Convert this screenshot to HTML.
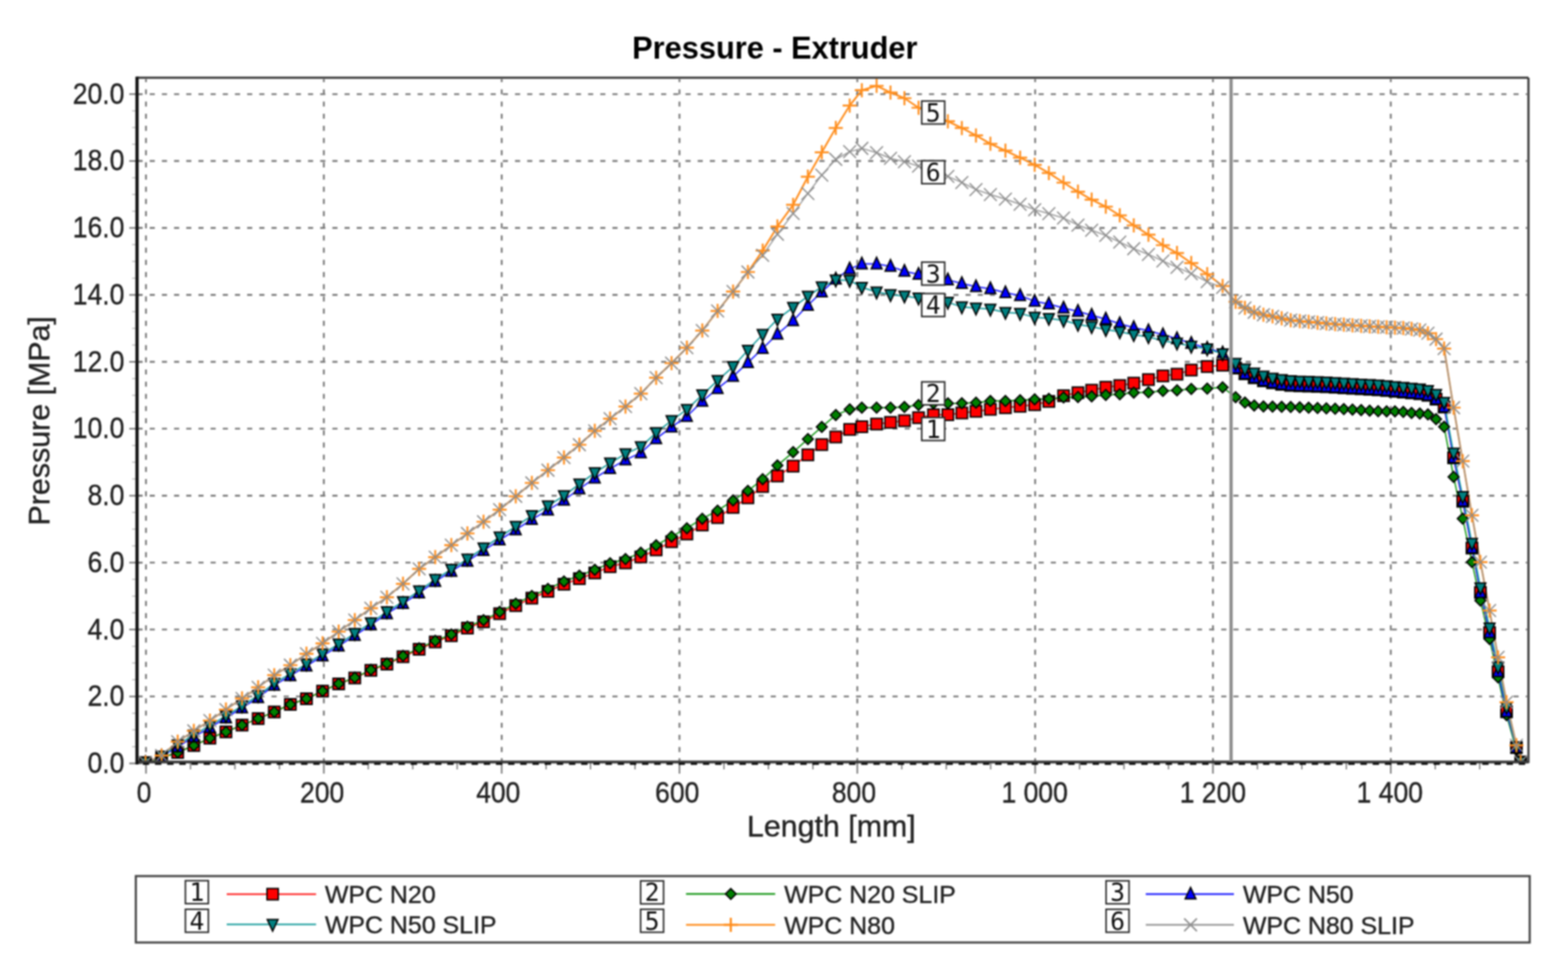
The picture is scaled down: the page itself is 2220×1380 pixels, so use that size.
<!DOCTYPE html>
<html><head><meta charset="utf-8"><title>Pressure - Extruder</title>
<style>html,body{margin:0;padding:0;background:#fff;} svg{display:block;filter:blur(0.9px);}</style>
</head><body>
<svg width="2220" height="1380" viewBox="0 0 2220 1380">
<rect width="2220" height="1380" fill="#fff"/>
<text x="1097" y="82.5" text-anchor="middle" font-family="Liberation Sans, Arial, sans-serif" font-weight="bold" font-size="43.5" fill="#000">Pressure - Extruder</text>
<g stroke="#7a7a7a" stroke-width="2.6" stroke-dasharray="7.2 10.04"><line x1="196" y1="985.8" x2="2162" y2="985.8" stroke-dashoffset="1.24"/><line x1="196" y1="891.0" x2="2162" y2="891.0" stroke-dashoffset="1.24"/><line x1="196" y1="796.3" x2="2162" y2="796.3" stroke-dashoffset="1.24"/><line x1="196" y1="701.6" x2="2162" y2="701.6" stroke-dashoffset="1.24"/><line x1="196" y1="606.8" x2="2162" y2="606.8" stroke-dashoffset="1.24"/><line x1="196" y1="512.1" x2="2162" y2="512.1" stroke-dashoffset="1.24"/><line x1="196" y1="417.4" x2="2162" y2="417.4" stroke-dashoffset="1.24"/><line x1="196" y1="322.6" x2="2162" y2="322.6" stroke-dashoffset="1.24"/><line x1="196" y1="227.9" x2="2162" y2="227.9" stroke-dashoffset="1.24"/><line x1="196" y1="133.2" x2="2162" y2="133.2" stroke-dashoffset="1.24"/><line x1="206.7" y1="112" x2="206.7" y2="1077" stroke-dashoffset="2.84"/><line x1="458.5" y1="112" x2="458.5" y2="1077" stroke-dashoffset="2.84"/><line x1="710.3" y1="112" x2="710.3" y2="1077" stroke-dashoffset="2.84"/><line x1="962.0" y1="112" x2="962.0" y2="1077" stroke-dashoffset="2.84"/><line x1="1213.8" y1="112" x2="1213.8" y2="1077" stroke-dashoffset="2.84"/><line x1="1465.6" y1="112" x2="1465.6" y2="1077" stroke-dashoffset="2.84"/><line x1="1717.3" y1="112" x2="1717.3" y2="1077" stroke-dashoffset="2.84"/><line x1="1969.1" y1="112" x2="1969.1" y2="1077" stroke-dashoffset="2.84"/></g>
<g stroke="#7a7a7a" stroke-width="2.2"><line x1="183" y1="1080.5" x2="201" y2="1080.5"/><line x1="187" y1="1056.8" x2="193" y2="1056.8" stroke-width="1.4" stroke="#b5b5b5"/><line x1="187" y1="1033.1" x2="193" y2="1033.1" stroke-width="1.4" stroke="#b5b5b5"/><line x1="187" y1="1009.5" x2="193" y2="1009.5" stroke-width="1.4" stroke="#b5b5b5"/><line x1="183" y1="985.8" x2="201" y2="985.8"/><line x1="187" y1="962.1" x2="193" y2="962.1" stroke-width="1.4" stroke="#b5b5b5"/><line x1="187" y1="938.4" x2="193" y2="938.4" stroke-width="1.4" stroke="#b5b5b5"/><line x1="187" y1="914.7" x2="193" y2="914.7" stroke-width="1.4" stroke="#b5b5b5"/><line x1="183" y1="891.0" x2="201" y2="891.0"/><line x1="187" y1="867.4" x2="193" y2="867.4" stroke-width="1.4" stroke="#b5b5b5"/><line x1="187" y1="843.7" x2="193" y2="843.7" stroke-width="1.4" stroke="#b5b5b5"/><line x1="187" y1="820.0" x2="193" y2="820.0" stroke-width="1.4" stroke="#b5b5b5"/><line x1="183" y1="796.3" x2="201" y2="796.3"/><line x1="187" y1="772.6" x2="193" y2="772.6" stroke-width="1.4" stroke="#b5b5b5"/><line x1="187" y1="748.9" x2="193" y2="748.9" stroke-width="1.4" stroke="#b5b5b5"/><line x1="187" y1="725.3" x2="193" y2="725.3" stroke-width="1.4" stroke="#b5b5b5"/><line x1="183" y1="701.6" x2="201" y2="701.6"/><line x1="187" y1="677.9" x2="193" y2="677.9" stroke-width="1.4" stroke="#b5b5b5"/><line x1="187" y1="654.2" x2="193" y2="654.2" stroke-width="1.4" stroke="#b5b5b5"/><line x1="187" y1="630.5" x2="193" y2="630.5" stroke-width="1.4" stroke="#b5b5b5"/><line x1="183" y1="606.8" x2="201" y2="606.8"/><line x1="187" y1="583.2" x2="193" y2="583.2" stroke-width="1.4" stroke="#b5b5b5"/><line x1="187" y1="559.5" x2="193" y2="559.5" stroke-width="1.4" stroke="#b5b5b5"/><line x1="187" y1="535.8" x2="193" y2="535.8" stroke-width="1.4" stroke="#b5b5b5"/><line x1="183" y1="512.1" x2="201" y2="512.1"/><line x1="187" y1="488.4" x2="193" y2="488.4" stroke-width="1.4" stroke="#b5b5b5"/><line x1="187" y1="464.7" x2="193" y2="464.7" stroke-width="1.4" stroke="#b5b5b5"/><line x1="187" y1="441.1" x2="193" y2="441.1" stroke-width="1.4" stroke="#b5b5b5"/><line x1="183" y1="417.4" x2="201" y2="417.4"/><line x1="187" y1="393.7" x2="193" y2="393.7" stroke-width="1.4" stroke="#b5b5b5"/><line x1="187" y1="370.0" x2="193" y2="370.0" stroke-width="1.4" stroke="#b5b5b5"/><line x1="187" y1="346.3" x2="193" y2="346.3" stroke-width="1.4" stroke="#b5b5b5"/><line x1="183" y1="322.6" x2="201" y2="322.6"/><line x1="187" y1="299.0" x2="193" y2="299.0" stroke-width="1.4" stroke="#b5b5b5"/><line x1="187" y1="275.3" x2="193" y2="275.3" stroke-width="1.4" stroke="#b5b5b5"/><line x1="187" y1="251.6" x2="193" y2="251.6" stroke-width="1.4" stroke="#b5b5b5"/><line x1="183" y1="227.9" x2="201" y2="227.9"/><line x1="187" y1="204.2" x2="193" y2="204.2" stroke-width="1.4" stroke="#b5b5b5"/><line x1="187" y1="180.5" x2="193" y2="180.5" stroke-width="1.4" stroke="#b5b5b5"/><line x1="187" y1="156.9" x2="193" y2="156.9" stroke-width="1.4" stroke="#b5b5b5"/><line x1="183" y1="133.2" x2="201" y2="133.2"/><line x1="206.7" y1="1073" x2="206.7" y2="1095"/><line x1="269.7" y1="1079" x2="269.7" y2="1089" stroke-width="1.8"/><line x1="332.6" y1="1079" x2="332.6" y2="1089" stroke-width="1.8"/><line x1="395.6" y1="1079" x2="395.6" y2="1089" stroke-width="1.8"/><line x1="458.5" y1="1073" x2="458.5" y2="1095"/><line x1="521.4" y1="1079" x2="521.4" y2="1089" stroke-width="1.8"/><line x1="584.4" y1="1079" x2="584.4" y2="1089" stroke-width="1.8"/><line x1="647.3" y1="1079" x2="647.3" y2="1089" stroke-width="1.8"/><line x1="710.3" y1="1073" x2="710.3" y2="1095"/><line x1="773.2" y1="1079" x2="773.2" y2="1089" stroke-width="1.8"/><line x1="836.1" y1="1079" x2="836.1" y2="1089" stroke-width="1.8"/><line x1="899.1" y1="1079" x2="899.1" y2="1089" stroke-width="1.8"/><line x1="962.0" y1="1073" x2="962.0" y2="1095"/><line x1="1025.0" y1="1079" x2="1025.0" y2="1089" stroke-width="1.8"/><line x1="1087.9" y1="1079" x2="1087.9" y2="1089" stroke-width="1.8"/><line x1="1150.9" y1="1079" x2="1150.9" y2="1089" stroke-width="1.8"/><line x1="1213.8" y1="1073" x2="1213.8" y2="1095"/><line x1="1276.7" y1="1079" x2="1276.7" y2="1089" stroke-width="1.8"/><line x1="1339.7" y1="1079" x2="1339.7" y2="1089" stroke-width="1.8"/><line x1="1402.6" y1="1079" x2="1402.6" y2="1089" stroke-width="1.8"/><line x1="1465.6" y1="1073" x2="1465.6" y2="1095"/><line x1="1528.5" y1="1079" x2="1528.5" y2="1089" stroke-width="1.8"/><line x1="1591.4" y1="1079" x2="1591.4" y2="1089" stroke-width="1.8"/><line x1="1654.4" y1="1079" x2="1654.4" y2="1089" stroke-width="1.8"/><line x1="1717.3" y1="1073" x2="1717.3" y2="1095"/><line x1="1780.3" y1="1079" x2="1780.3" y2="1089" stroke-width="1.8"/><line x1="1843.2" y1="1079" x2="1843.2" y2="1089" stroke-width="1.8"/><line x1="1906.2" y1="1079" x2="1906.2" y2="1089" stroke-width="1.8"/><line x1="1969.1" y1="1073" x2="1969.1" y2="1095"/><line x1="2032.0" y1="1079" x2="2032.0" y2="1089" stroke-width="1.8"/><line x1="2095.0" y1="1079" x2="2095.0" y2="1089" stroke-width="1.8"/></g>
<defs><clipPath id="pa"><rect x="194" y="110" width="1970" height="968.5"/></clipPath></defs>
<g clip-path="url(#pa)">
<polyline points="206.0,1079.4 228.8,1072.5 251.6,1065.0 274.4,1055.2 297.2,1044.8 319.9,1035.9 342.7,1026.3 365.5,1017.1 388.3,1007.7 411.1,997.0 433.9,989.0 456.7,978.2 479.5,968.0 502.3,959.6 525.1,948.8 547.8,940.0 570.6,929.5 593.4,919.0 616.2,908.6 639.0,899.8 661.8,889.0 684.6,880.1 707.4,868.6 730.2,857.2 753.0,846.6 775.8,837.0 798.5,826.9 820.3,819.0 842.1,810.9 863.8,802.1 885.6,796.7 907.3,788.3 929.0,778.3 950.8,766.7 972.5,755.8 994.3,743.1 1016.0,732.6 1037.9,718.2 1058.9,704.6 1079.8,688.6 1100.7,673.7 1122.9,659.8 1143.8,643.8 1163.5,629.3 1183.3,618.5 1203.0,607.8 1220.2,604.0 1241.1,600.2 1260.8,597.8 1280.5,595.5 1300.5,591.2 1321.6,587.1 1342.0,587.0 1361.8,584.5 1381.8,582.2 1402.2,579.4 1423.5,577.1 1444.3,575.1 1464.9,572.8 1485.0,568.2 1505.8,560.1 1526.2,555.8 1545.6,552.3 1565.6,548.1 1585.4,545.7 1605.2,542.3 1626.0,537.3 1646.5,532.1 1666.4,529.6 1686.6,523.8 1709.2,518.8 1731.0,516.9 1749.4,521.0 1762.6,529.1 1775.7,534.7 1788.8,539.0 1801.7,541.8 1814.6,544.0 1827.4,545.5 1840.2,546.1 1852.8,546.5 1865.4,546.9 1877.9,547.4 1890.3,548.1 1902.6,548.9 1914.9,549.6 1927.1,550.3 1939.2,551.0 1951.2,551.7 1963.2,552.7 1975.0,553.8 1986.8,555.0 1998.5,556.1 2010.2,557.3 2021.7,559.5 2033.2,565.0 2044.6,576.1 2058.0,648.0 2071.0,709.5 2084.0,775.7 2096.0,838.6 2109.0,895.4 2121.0,950.7 2133.0,1007.5 2147.0,1058.1 2153.0,1078.5" fill="none" stroke="#ff1a1a" stroke-width="2.0" stroke-linejoin="round"/>
<polyline points="206.0,1079.4 228.8,1072.5 251.6,1065.0 274.4,1055.2 297.2,1044.8 319.9,1035.9 342.7,1026.3 365.5,1017.1 388.3,1007.7 411.1,997.0 433.9,989.0 456.7,978.1 479.5,967.7 502.3,959.1 525.1,948.1 547.8,939.1 570.6,928.3 593.4,917.6 616.2,907.0 639.0,898.0 661.8,887.0 684.6,877.8 707.4,866.1 730.2,854.4 753.0,843.5 775.8,833.5 798.5,823.0 820.3,814.8 842.1,806.4 863.8,797.2 885.6,791.3 907.3,782.3 929.0,771.8 950.8,759.4 972.5,747.7 994.3,734.2 1016.0,722.7 1037.9,708.3 1058.9,694.7 1079.8,678.2 1100.7,658.8 1122.9,639.9 1143.8,621.4 1163.5,604.3 1183.3,587.4 1203.0,579.4 1220.2,577.0 1241.1,577.0 1260.8,577.0 1280.5,576.1 1300.5,573.2 1321.6,570.9 1342.0,570.9 1361.8,570.8 1381.8,569.9 1402.2,567.6 1423.5,567.6 1444.3,566.6 1464.9,565.2 1485.0,564.6 1505.8,562.4 1526.2,561.9 1545.6,560.9 1565.6,559.0 1585.4,558.0 1605.2,555.7 1626.0,555.3 1646.5,553.3 1666.4,552.4 1686.6,550.5 1709.2,550.0 1731.0,548.2 1749.4,562.2 1762.6,569.8 1775.7,573.9 1788.8,575.3 1801.7,575.6 1814.6,575.8 1827.4,576.1 1840.2,576.6 1852.8,577.1 1865.4,577.5 1877.9,578.0 1890.3,578.5 1902.6,579.1 1914.9,579.7 1927.1,580.4 1939.2,581.2 1951.2,582.0 1963.2,582.2 1975.0,582.2 1986.8,583.1 1998.5,584.5 2010.2,585.3 2021.7,586.6 2033.2,593.2 2044.6,604.1 2058.0,674.9 2071.0,734.1 2084.0,795.6 2096.0,850.0 2109.0,904.4 2121.0,958.8 2133.0,1012.2 2147.0,1061.4 2153.0,1078.5" fill="none" stroke="#1c9a1c" stroke-width="2.0" stroke-linejoin="round"/>
<polyline points="206.0,1079.4 228.8,1070.3 251.6,1057.2 274.4,1043.0 297.2,1029.8 319.9,1016.1 342.7,1001.9 365.5,987.4 388.3,969.9 411.1,956.4 433.9,942.6 456.7,928.4 479.5,914.5 502.3,899.5 525.1,884.5 547.8,868.6 570.6,854.3 593.4,839.3 616.2,823.0 639.0,808.7 661.8,794.5 684.6,779.2 707.4,764.3 730.2,749.9 753.0,735.1 775.8,722.0 798.5,708.0 820.3,692.0 842.1,676.6 863.8,663.3 885.6,650.9 907.3,640.9 929.0,620.9 950.8,604.4 972.5,589.4 994.3,568.0 1016.0,549.9 1037.9,532.8 1058.9,513.2 1079.8,493.3 1100.7,472.9 1122.9,454.0 1143.8,432.1 1163.5,413.2 1183.3,395.0 1203.0,380.7 1220.2,373.6 1241.1,373.6 1260.8,376.9 1280.5,384.0 1300.5,388.3 1321.6,392.2 1342.0,396.1 1361.8,401.3 1381.8,405.8 1402.2,408.7 1423.5,414.3 1444.3,418.4 1464.9,426.4 1485.0,430.2 1505.8,436.0 1526.2,440.7 1545.6,446.2 1565.6,451.7 1585.4,458.2 1605.2,463.7 1626.0,468.1 1646.5,473.8 1666.4,479.4 1686.6,486.0 1709.2,492.9 1731.0,499.5 1749.4,521.0 1762.6,529.1 1775.7,534.7 1788.8,539.0 1801.7,541.8 1814.6,544.0 1827.4,545.5 1840.2,546.1 1852.8,546.5 1865.4,546.9 1877.9,547.4 1890.3,548.1 1902.6,548.9 1914.9,549.6 1927.1,550.3 1939.2,551.0 1951.2,551.7 1963.2,552.7 1975.0,553.8 1986.8,555.0 1998.5,556.1 2010.2,557.3 2021.7,559.5 2033.2,565.0 2044.6,576.1 2058.0,648.0 2071.0,709.5 2084.0,775.7 2096.0,838.6 2109.0,895.4 2121.0,950.7 2133.0,1007.5 2147.0,1058.1 2153.0,1078.5" fill="none" stroke="#2222ff" stroke-width="2.0" stroke-linejoin="round"/>
<polyline points="206.0,1079.4 228.8,1070.3 251.6,1054.4 274.4,1040.2 297.2,1027.0 319.9,1013.3 342.7,999.1 365.5,984.6 388.3,967.1 411.1,953.5 433.9,939.8 456.7,925.5 479.5,911.6 502.3,896.6 525.1,881.6 547.8,865.8 570.6,851.5 593.4,836.4 616.2,820.1 639.0,805.8 661.8,791.4 684.6,775.6 707.4,760.1 730.2,745.1 753.0,729.8 775.8,716.1 798.5,701.6 820.3,685.1 842.1,669.1 863.8,655.3 885.6,642.4 907.3,632.4 929.0,612.4 950.8,595.3 972.5,579.5 994.3,558.9 1016.0,538.5 1037.9,518.9 1058.9,495.7 1079.8,473.4 1100.7,451.7 1122.9,435.1 1143.8,419.2 1163.5,406.1 1183.3,396.3 1203.0,396.8 1220.2,406.7 1241.1,413.3 1260.8,417.1 1280.5,419.0 1300.5,421.9 1321.6,424.8 1342.0,427.9 1361.8,434.4 1381.8,436.1 1402.2,437.6 1423.5,442.2 1444.3,443.6 1464.9,449.1 1485.0,450.7 1505.8,453.5 1526.2,459.2 1545.6,462.4 1565.6,466.5 1585.4,469.6 1605.2,473.7 1626.0,476.7 1646.5,482.4 1666.4,485.6 1686.6,490.1 1709.2,493.8 1731.0,500.9 1749.4,514.4 1762.6,522.4 1775.7,528.1 1788.8,532.3 1801.7,535.2 1814.6,537.4 1827.4,538.9 1840.2,539.5 1852.8,539.9 1865.4,540.3 1877.9,540.8 1890.3,541.5 1902.6,542.3 1914.9,543.0 1927.1,543.7 1939.2,544.4 1951.2,545.1 1963.2,546.1 1975.0,547.2 1986.8,548.4 1998.5,549.5 2010.2,550.6 2021.7,552.8 2033.2,558.4 2044.6,569.5 2058.0,641.4 2071.0,702.9 2084.0,769.1 2096.0,832.0 2109.0,888.8 2121.0,944.1 2133.0,1000.9 2147.0,1058.1 2153.0,1078.5" fill="none" stroke="#1a9e9e" stroke-width="2.0" stroke-linejoin="round"/>
<polyline points="206.0,1079.4 228.8,1069.4 251.6,1049.8 274.4,1034.5 297.2,1019.9 319.9,1004.3 342.7,988.6 365.5,972.8 388.3,955.7 411.1,941.5 433.9,925.3 456.7,910.6 479.5,894.0 502.3,877.7 525.1,860.8 547.8,845.3 570.6,826.3 593.4,805.2 616.2,788.6 639.0,771.6 661.8,755.0 684.6,738.5 707.4,721.4 730.2,702.5 753.0,683.5 775.8,665.5 798.5,647.6 820.3,629.5 842.1,609.8 863.8,592.6 885.6,575.4 907.3,557.2 929.0,534.7 950.8,514.0 972.5,492.1 994.3,467.8 1016.0,440.1 1037.9,412.7 1058.9,385.0 1079.8,354.7 1100.7,320.6 1122.9,289.9 1143.8,250.1 1163.5,215.6 1183.3,181.1 1203.0,149.4 1220.2,127.7 1241.1,121.5 1260.8,130.9 1280.5,139.0 1300.5,152.5 1321.6,162.1 1342.0,171.7 1361.8,181.2 1381.8,191.7 1402.2,203.5 1423.5,213.2 1444.3,223.2 1464.9,233.3 1485.0,244.9 1505.8,258.5 1526.2,271.3 1545.6,282.6 1565.6,292.5 1585.4,304.8 1605.2,319.0 1626.0,332.2 1646.5,347.0 1666.4,358.1 1686.6,372.3 1709.2,388.0 1731.0,404.8 1749.4,427.2 1762.6,435.8 1775.7,442.0 1788.8,445.5 1801.7,447.8 1814.6,450.6 1827.4,453.2 1840.2,454.5 1852.8,455.6 1865.4,456.7 1877.9,457.8 1890.3,458.8 1902.6,459.6 1914.9,460.4 1927.1,461.2 1939.2,462.0 1951.2,462.6 1963.2,463.2 1975.0,463.8 1986.8,464.3 1998.5,465.6 2010.2,467.2 2021.7,471.7 2033.2,480.0 2044.6,493.3 2058.0,577.0 2071.0,652.7 2084.0,729.3 2096.0,795.6 2109.0,864.2 2121.0,930.4 2133.0,993.8 2147.0,1054.8 2153.0,1078.5" fill="none" stroke="#ff8c1a" stroke-width="2.6" stroke-linejoin="round"/>
<polyline points="206.0,1079.4 228.8,1069.4 251.6,1049.8 274.4,1034.5 297.2,1019.9 319.9,1004.3 342.7,988.6 365.5,972.8 388.3,955.7 411.1,941.5 433.9,925.3 456.7,910.6 479.5,894.0 502.3,877.7 525.1,860.8 547.8,845.3 570.6,826.3 593.4,805.2 616.2,788.6 639.0,771.6 661.8,755.0 684.6,738.5 707.4,721.4 730.2,702.5 753.0,683.5 775.8,665.5 798.5,647.6 820.3,629.5 842.1,609.8 863.8,592.6 885.6,575.4 907.3,557.2 929.0,534.7 950.8,514.0 972.5,492.1 994.3,467.8 1016.0,440.1 1037.9,412.7 1058.9,385.0 1079.8,361.3 1100.7,331.5 1122.9,302.2 1143.8,273.8 1163.5,247.8 1183.3,225.5 1203.0,214.7 1220.2,210.0 1241.1,216.1 1260.8,224.1 1280.5,228.9 1300.5,235.2 1321.6,242.5 1342.0,249.7 1361.8,258.3 1381.8,268.3 1402.2,275.4 1423.5,281.9 1444.3,289.1 1464.9,296.8 1485.0,302.4 1505.8,308.7 1526.2,318.6 1545.6,325.9 1565.6,333.2 1585.4,342.7 1605.2,352.0 1626.0,360.1 1646.5,369.4 1666.4,378.3 1686.6,387.3 1709.2,398.7 1731.0,406.8 1749.4,427.2 1762.6,435.8 1775.7,442.0 1788.8,445.5 1801.7,447.8 1814.6,450.6 1827.4,453.2 1840.2,454.5 1852.8,455.6 1865.4,456.7 1877.9,457.8 1890.3,458.8 1902.6,459.6 1914.9,460.4 1927.1,461.2 1939.2,462.0 1951.2,462.6 1963.2,463.2 1975.0,463.8 1986.8,464.3 1998.5,465.6 2010.2,467.2 2021.7,471.7 2033.2,480.0 2044.6,493.3 2058.0,577.0 2071.0,652.7 2084.0,729.3 2096.0,795.6 2109.0,864.2 2121.0,930.4 2133.0,993.8 2147.0,1054.8 2153.0,1078.5" fill="none" stroke="#999999" stroke-width="1.7" stroke-linejoin="round"/>
<g fill="#ff0000" stroke="#000" stroke-width="2" stroke-linejoin="miter"><rect x="198.0" y="1071.4" width="16" height="16"/><rect x="220.8" y="1064.5" width="16" height="16"/><rect x="243.6" y="1057.0" width="16" height="16"/><rect x="266.4" y="1047.2" width="16" height="16"/><rect x="289.2" y="1036.8" width="16" height="16"/><rect x="311.9" y="1027.9" width="16" height="16"/><rect x="334.7" y="1018.3" width="16" height="16"/><rect x="357.5" y="1009.1" width="16" height="16"/><rect x="380.3" y="999.7" width="16" height="16"/><rect x="403.1" y="989.0" width="16" height="16"/><rect x="425.9" y="981.0" width="16" height="16"/><rect x="448.7" y="970.2" width="16" height="16"/><rect x="471.5" y="960.0" width="16" height="16"/><rect x="494.3" y="951.6" width="16" height="16"/><rect x="517.1" y="940.8" width="16" height="16"/><rect x="539.8" y="932.0" width="16" height="16"/><rect x="562.6" y="921.5" width="16" height="16"/><rect x="585.4" y="911.0" width="16" height="16"/><rect x="608.2" y="900.6" width="16" height="16"/><rect x="631.0" y="891.8" width="16" height="16"/><rect x="653.8" y="881.0" width="16" height="16"/><rect x="676.6" y="872.1" width="16" height="16"/><rect x="699.4" y="860.6" width="16" height="16"/><rect x="722.2" y="849.2" width="16" height="16"/><rect x="745.0" y="838.6" width="16" height="16"/><rect x="767.8" y="829.0" width="16" height="16"/><rect x="790.5" y="818.9" width="16" height="16"/><rect x="812.3" y="811.0" width="16" height="16"/><rect x="834.1" y="802.9" width="16" height="16"/><rect x="855.8" y="794.1" width="16" height="16"/><rect x="877.6" y="788.7" width="16" height="16"/><rect x="899.3" y="780.3" width="16" height="16"/><rect x="921.0" y="770.3" width="16" height="16"/><rect x="942.8" y="758.7" width="16" height="16"/><rect x="964.5" y="747.8" width="16" height="16"/><rect x="986.3" y="735.1" width="16" height="16"/><rect x="1008.0" y="724.6" width="16" height="16"/><rect x="1029.9" y="710.2" width="16" height="16"/><rect x="1050.9" y="696.6" width="16" height="16"/><rect x="1071.8" y="680.6" width="16" height="16"/><rect x="1092.7" y="665.7" width="16" height="16"/><rect x="1114.9" y="651.8" width="16" height="16"/><rect x="1135.8" y="635.8" width="16" height="16"/><rect x="1155.5" y="621.3" width="16" height="16"/><rect x="1175.3" y="610.5" width="16" height="16"/><rect x="1195.0" y="599.8" width="16" height="16"/><rect x="1212.2" y="596.0" width="16" height="16"/><rect x="1233.1" y="592.2" width="16" height="16"/><rect x="1252.8" y="589.8" width="16" height="16"/><rect x="1272.5" y="587.5" width="16" height="16"/><rect x="1292.5" y="583.2" width="16" height="16"/><rect x="1313.6" y="579.1" width="16" height="16"/><rect x="1334.0" y="579.0" width="16" height="16"/><rect x="1353.8" y="576.5" width="16" height="16"/><rect x="1373.8" y="574.2" width="16" height="16"/><rect x="1394.2" y="571.4" width="16" height="16"/><rect x="1415.5" y="569.1" width="16" height="16"/><rect x="1436.3" y="567.1" width="16" height="16"/><rect x="1456.9" y="564.8" width="16" height="16"/><rect x="1477.0" y="560.2" width="16" height="16"/><rect x="1497.8" y="552.1" width="16" height="16"/><rect x="1518.2" y="547.8" width="16" height="16"/><rect x="1537.6" y="544.3" width="16" height="16"/><rect x="1557.6" y="540.1" width="16" height="16"/><rect x="1577.4" y="537.7" width="16" height="16"/><rect x="1597.2" y="534.3" width="16" height="16"/><rect x="1618.0" y="529.3" width="16" height="16"/><rect x="1638.5" y="524.1" width="16" height="16"/><rect x="1658.4" y="521.6" width="16" height="16"/><rect x="1678.6" y="515.8" width="16" height="16"/><rect x="1701.2" y="510.8" width="16" height="16"/><rect x="1723.0" y="508.9" width="16" height="16"/><rect x="1741.4" y="513.0" width="16" height="16"/><rect x="1754.6" y="521.1" width="16" height="16"/><rect x="1767.7" y="526.7" width="16" height="16"/><rect x="1780.8" y="531.0" width="16" height="16"/><rect x="1793.7" y="533.8" width="16" height="16"/><rect x="1806.6" y="536.0" width="16" height="16"/><rect x="1819.4" y="537.5" width="16" height="16"/><rect x="1832.2" y="538.1" width="16" height="16"/><rect x="1844.8" y="538.5" width="16" height="16"/><rect x="1857.4" y="538.9" width="16" height="16"/><rect x="1869.9" y="539.4" width="16" height="16"/><rect x="1882.3" y="540.1" width="16" height="16"/><rect x="1894.6" y="540.9" width="16" height="16"/><rect x="1906.9" y="541.6" width="16" height="16"/><rect x="1919.1" y="542.3" width="16" height="16"/><rect x="1931.2" y="543.0" width="16" height="16"/><rect x="1943.2" y="543.7" width="16" height="16"/><rect x="1955.2" y="544.7" width="16" height="16"/><rect x="1967.0" y="545.8" width="16" height="16"/><rect x="1978.8" y="547.0" width="16" height="16"/><rect x="1990.5" y="548.1" width="16" height="16"/><rect x="2002.2" y="549.3" width="16" height="16"/><rect x="2013.7" y="551.5" width="16" height="16"/><rect x="2025.2" y="557.0" width="16" height="16"/><rect x="2036.6" y="568.1" width="16" height="16"/><rect x="2050.0" y="640.0" width="16" height="16"/><rect x="2063.0" y="701.5" width="16" height="16"/><rect x="2076.0" y="767.7" width="16" height="16"/><rect x="2088.0" y="830.6" width="16" height="16"/><rect x="2101.0" y="887.4" width="16" height="16"/><rect x="2113.0" y="942.7" width="16" height="16"/><rect x="2125.0" y="999.5" width="16" height="16"/><rect x="2139.0" y="1050.1" width="16" height="16"/><rect x="2145.0" y="1070.5" width="16" height="16"/></g>
<g fill="#008000" stroke="#000" stroke-width="2" stroke-linejoin="miter"><path d="M206.0 1071.8L213.6 1079.4L206.0 1087.0L198.4 1079.4Z"/><path d="M228.8 1064.9L236.4 1072.5L228.8 1080.1L221.2 1072.5Z"/><path d="M251.6 1057.4L259.2 1065.0L251.6 1072.6L244.0 1065.0Z"/><path d="M274.4 1047.6L282.0 1055.2L274.4 1062.8L266.8 1055.2Z"/><path d="M297.2 1037.2L304.8 1044.8L297.2 1052.4L289.6 1044.8Z"/><path d="M319.9 1028.3L327.6 1035.9L319.9 1043.5L312.3 1035.9Z"/><path d="M342.7 1018.7L350.3 1026.3L342.7 1033.9L335.1 1026.3Z"/><path d="M365.5 1009.5L373.1 1017.1L365.5 1024.7L357.9 1017.1Z"/><path d="M388.3 1000.1L395.9 1007.7L388.3 1015.3L380.7 1007.7Z"/><path d="M411.1 989.4L418.7 997.0L411.1 1004.6L403.5 997.0Z"/><path d="M433.9 981.4L441.5 989.0L433.9 996.6L426.3 989.0Z"/><path d="M456.7 970.5L464.3 978.1L456.7 985.7L449.1 978.1Z"/><path d="M479.5 960.1L487.1 967.7L479.5 975.3L471.9 967.7Z"/><path d="M502.3 951.5L509.9 959.1L502.3 966.7L494.7 959.1Z"/><path d="M525.1 940.5L532.7 948.1L525.1 955.7L517.5 948.1Z"/><path d="M547.8 931.5L555.4 939.1L547.8 946.7L540.2 939.1Z"/><path d="M570.6 920.7L578.2 928.3L570.6 935.9L563.0 928.3Z"/><path d="M593.4 910.0L601.0 917.6L593.4 925.2L585.8 917.6Z"/><path d="M616.2 899.4L623.8 907.0L616.2 914.6L608.6 907.0Z"/><path d="M639.0 890.4L646.6 898.0L639.0 905.6L631.4 898.0Z"/><path d="M661.8 879.4L669.4 887.0L661.8 894.6L654.2 887.0Z"/><path d="M684.6 870.2L692.2 877.8L684.6 885.4L677.0 877.8Z"/><path d="M707.4 858.5L715.0 866.1L707.4 873.7L699.8 866.1Z"/><path d="M730.2 846.8L737.8 854.4L730.2 862.0L722.6 854.4Z"/><path d="M753.0 835.9L760.6 843.5L753.0 851.1L745.4 843.5Z"/><path d="M775.8 825.9L783.4 833.5L775.8 841.1L768.1 833.5Z"/><path d="M798.5 815.4L806.1 823.0L798.5 830.6L790.9 823.0Z"/><path d="M820.3 807.2L827.9 814.8L820.3 822.4L812.7 814.8Z"/><path d="M842.1 798.8L849.7 806.4L842.1 814.0L834.5 806.4Z"/><path d="M863.8 789.6L871.4 797.2L863.8 804.8L856.2 797.2Z"/><path d="M885.6 783.7L893.2 791.3L885.6 798.9L878.0 791.3Z"/><path d="M907.3 774.7L914.9 782.3L907.3 789.9L899.7 782.3Z"/><path d="M929.0 764.2L936.6 771.8L929.0 779.4L921.4 771.8Z"/><path d="M950.8 751.8L958.4 759.4L950.8 767.0L943.2 759.4Z"/><path d="M972.5 740.1L980.1 747.7L972.5 755.3L964.9 747.7Z"/><path d="M994.3 726.6L1001.9 734.2L994.3 741.8L986.7 734.2Z"/><path d="M1016.0 715.1L1023.6 722.7L1016.0 730.3L1008.4 722.7Z"/><path d="M1037.9 700.7L1045.5 708.3L1037.9 715.9L1030.3 708.3Z"/><path d="M1058.9 687.1L1066.5 694.7L1058.9 702.3L1051.3 694.7Z"/><path d="M1079.8 670.6L1087.4 678.2L1079.8 685.8L1072.2 678.2Z"/><path d="M1100.7 651.2L1108.3 658.8L1100.7 666.4L1093.1 658.8Z"/><path d="M1122.9 632.3L1130.5 639.9L1122.9 647.5L1115.3 639.9Z"/><path d="M1143.8 613.8L1151.4 621.4L1143.8 629.0L1136.2 621.4Z"/><path d="M1163.5 596.7L1171.1 604.3L1163.5 611.9L1155.9 604.3Z"/><path d="M1183.3 579.8L1190.9 587.4L1183.3 595.0L1175.7 587.4Z"/><path d="M1203.0 571.8L1210.6 579.4L1203.0 587.0L1195.4 579.4Z"/><path d="M1220.2 569.4L1227.8 577.0L1220.2 584.6L1212.6 577.0Z"/><path d="M1241.1 569.4L1248.7 577.0L1241.1 584.6L1233.5 577.0Z"/><path d="M1260.8 569.4L1268.4 577.0L1260.8 584.6L1253.2 577.0Z"/><path d="M1280.5 568.5L1288.1 576.1L1280.5 583.7L1272.9 576.1Z"/><path d="M1300.5 565.6L1308.1 573.2L1300.5 580.8L1292.9 573.2Z"/><path d="M1321.6 563.3L1329.2 570.9L1321.6 578.5L1314.0 570.9Z"/><path d="M1342.0 563.3L1349.6 570.9L1342.0 578.5L1334.4 570.9Z"/><path d="M1361.8 563.2L1369.4 570.8L1361.8 578.4L1354.2 570.8Z"/><path d="M1381.8 562.3L1389.4 569.9L1381.8 577.5L1374.2 569.9Z"/><path d="M1402.2 560.0L1409.8 567.6L1402.2 575.2L1394.6 567.6Z"/><path d="M1423.5 560.0L1431.1 567.6L1423.5 575.2L1415.9 567.6Z"/><path d="M1444.3 559.0L1451.9 566.6L1444.3 574.2L1436.7 566.6Z"/><path d="M1464.9 557.6L1472.5 565.2L1464.9 572.8L1457.3 565.2Z"/><path d="M1485.0 557.0L1492.6 564.6L1485.0 572.2L1477.4 564.6Z"/><path d="M1505.8 554.8L1513.4 562.4L1505.8 570.0L1498.2 562.4Z"/><path d="M1526.2 554.3L1533.8 561.9L1526.2 569.5L1518.6 561.9Z"/><path d="M1545.6 553.3L1553.2 560.9L1545.6 568.5L1538.0 560.9Z"/><path d="M1565.6 551.4L1573.2 559.0L1565.6 566.6L1558.0 559.0Z"/><path d="M1585.4 550.4L1593.0 558.0L1585.4 565.6L1577.8 558.0Z"/><path d="M1605.2 548.1L1612.8 555.7L1605.2 563.3L1597.6 555.7Z"/><path d="M1626.0 547.7L1633.6 555.3L1626.0 562.9L1618.4 555.3Z"/><path d="M1646.5 545.7L1654.1 553.3L1646.5 560.9L1638.9 553.3Z"/><path d="M1666.4 544.8L1674.0 552.4L1666.4 560.0L1658.8 552.4Z"/><path d="M1686.6 542.9L1694.2 550.5L1686.6 558.1L1679.0 550.5Z"/><path d="M1709.2 542.4L1716.8 550.0L1709.2 557.6L1701.6 550.0Z"/><path d="M1731.0 540.6L1738.6 548.2L1731.0 555.8L1723.4 548.2Z"/><path d="M1749.4 554.6L1757.0 562.2L1749.4 569.8L1741.8 562.2Z"/><path d="M1762.6 562.2L1770.2 569.8L1762.6 577.4L1755.0 569.8Z"/><path d="M1775.7 566.3L1783.3 573.9L1775.7 581.5L1768.1 573.9Z"/><path d="M1788.8 567.7L1796.4 575.3L1788.8 582.9L1781.2 575.3Z"/><path d="M1801.7 568.0L1809.3 575.6L1801.7 583.2L1794.1 575.6Z"/><path d="M1814.6 568.2L1822.2 575.8L1814.6 583.4L1807.0 575.8Z"/><path d="M1827.4 568.5L1835.0 576.1L1827.4 583.7L1819.8 576.1Z"/><path d="M1840.2 569.0L1847.8 576.6L1840.2 584.2L1832.6 576.6Z"/><path d="M1852.8 569.5L1860.4 577.1L1852.8 584.7L1845.2 577.1Z"/><path d="M1865.4 569.9L1873.0 577.5L1865.4 585.1L1857.8 577.5Z"/><path d="M1877.9 570.4L1885.5 578.0L1877.9 585.6L1870.3 578.0Z"/><path d="M1890.3 570.9L1897.9 578.5L1890.3 586.1L1882.7 578.5Z"/><path d="M1902.6 571.5L1910.2 579.1L1902.6 586.7L1895.0 579.1Z"/><path d="M1914.9 572.1L1922.5 579.7L1914.9 587.3L1907.3 579.7Z"/><path d="M1927.1 572.8L1934.7 580.4L1927.1 588.0L1919.5 580.4Z"/><path d="M1939.2 573.6L1946.8 581.2L1939.2 588.8L1931.6 581.2Z"/><path d="M1951.2 574.4L1958.8 582.0L1951.2 589.6L1943.6 582.0Z"/><path d="M1963.2 574.6L1970.8 582.2L1963.2 589.8L1955.6 582.2Z"/><path d="M1975.0 574.6L1982.6 582.2L1975.0 589.8L1967.4 582.2Z"/><path d="M1986.8 575.5L1994.4 583.1L1986.8 590.7L1979.2 583.1Z"/><path d="M1998.5 576.9L2006.1 584.5L1998.5 592.1L1990.9 584.5Z"/><path d="M2010.2 577.7L2017.8 585.3L2010.2 592.9L2002.6 585.3Z"/><path d="M2021.7 579.0L2029.3 586.6L2021.7 594.2L2014.1 586.6Z"/><path d="M2033.2 585.6L2040.8 593.2L2033.2 600.8L2025.6 593.2Z"/><path d="M2044.6 596.5L2052.2 604.1L2044.6 611.7L2037.0 604.1Z"/><path d="M2058.0 667.3L2065.6 674.9L2058.0 682.5L2050.4 674.9Z"/><path d="M2071.0 726.5L2078.6 734.1L2071.0 741.7L2063.4 734.1Z"/><path d="M2084.0 788.0L2091.6 795.6L2084.0 803.2L2076.4 795.6Z"/><path d="M2096.0 842.4L2103.6 850.0L2096.0 857.6L2088.4 850.0Z"/><path d="M2109.0 896.8L2116.6 904.4L2109.0 912.0L2101.4 904.4Z"/><path d="M2121.0 951.2L2128.6 958.8L2121.0 966.4L2113.4 958.8Z"/><path d="M2133.0 1004.6L2140.6 1012.2L2133.0 1019.8L2125.4 1012.2Z"/><path d="M2147.0 1053.8L2154.6 1061.4L2147.0 1069.0L2139.4 1061.4Z"/><path d="M2153.0 1070.9L2160.6 1078.5L2153.0 1086.1L2145.4 1078.5Z"/></g>
<g fill="#0000ff" stroke="#000" stroke-width="2" stroke-linejoin="miter"><path d="M206.0 1069.9L213.6 1086.2L198.4 1086.2Z"/><path d="M228.8 1060.8L236.4 1077.1L221.2 1077.1Z"/><path d="M251.6 1047.7L259.2 1064.0L244.0 1064.0Z"/><path d="M274.4 1033.5L282.0 1049.8L266.8 1049.8Z"/><path d="M297.2 1020.3L304.8 1036.6L289.6 1036.6Z"/><path d="M319.9 1006.6L327.6 1022.9L312.3 1022.9Z"/><path d="M342.7 992.4L350.3 1008.7L335.1 1008.7Z"/><path d="M365.5 977.9L373.1 994.2L357.9 994.2Z"/><path d="M388.3 960.4L395.9 976.7L380.7 976.7Z"/><path d="M411.1 946.9L418.7 963.2L403.5 963.2Z"/><path d="M433.9 933.1L441.5 949.4L426.3 949.4Z"/><path d="M456.7 918.9L464.3 935.2L449.1 935.2Z"/><path d="M479.5 905.0L487.1 921.3L471.9 921.3Z"/><path d="M502.3 890.0L509.9 906.3L494.7 906.3Z"/><path d="M525.1 875.0L532.7 891.3L517.5 891.3Z"/><path d="M547.8 859.1L555.4 875.4L540.2 875.4Z"/><path d="M570.6 844.8L578.2 861.1L563.0 861.1Z"/><path d="M593.4 829.8L601.0 846.1L585.8 846.1Z"/><path d="M616.2 813.5L623.8 829.8L608.6 829.8Z"/><path d="M639.0 799.2L646.6 815.5L631.4 815.5Z"/><path d="M661.8 785.0L669.4 801.3L654.2 801.3Z"/><path d="M684.6 769.7L692.2 786.0L677.0 786.0Z"/><path d="M707.4 754.8L715.0 771.1L699.8 771.1Z"/><path d="M730.2 740.4L737.8 756.7L722.6 756.7Z"/><path d="M753.0 725.6L760.6 741.9L745.4 741.9Z"/><path d="M775.8 712.5L783.4 728.8L768.1 728.8Z"/><path d="M798.5 698.5L806.1 714.8L790.9 714.8Z"/><path d="M820.3 682.5L827.9 698.8L812.7 698.8Z"/><path d="M842.1 667.1L849.7 683.4L834.5 683.4Z"/><path d="M863.8 653.8L871.4 670.1L856.2 670.1Z"/><path d="M885.6 641.4L893.2 657.7L878.0 657.7Z"/><path d="M907.3 631.4L914.9 647.7L899.7 647.7Z"/><path d="M929.0 611.4L936.6 627.7L921.4 627.7Z"/><path d="M950.8 594.9L958.4 611.2L943.2 611.2Z"/><path d="M972.5 579.9L980.1 596.2L964.9 596.2Z"/><path d="M994.3 558.5L1001.9 574.8L986.7 574.8Z"/><path d="M1016.0 540.4L1023.6 556.7L1008.4 556.7Z"/><path d="M1037.9 523.3L1045.5 539.6L1030.3 539.6Z"/><path d="M1058.9 503.7L1066.5 520.0L1051.3 520.0Z"/><path d="M1079.8 483.8L1087.4 500.1L1072.2 500.1Z"/><path d="M1100.7 463.4L1108.3 479.7L1093.1 479.7Z"/><path d="M1122.9 444.5L1130.5 460.8L1115.3 460.8Z"/><path d="M1143.8 422.6L1151.4 438.9L1136.2 438.9Z"/><path d="M1163.5 403.7L1171.1 420.0L1155.9 420.0Z"/><path d="M1183.3 385.5L1190.9 401.8L1175.7 401.8Z"/><path d="M1203.0 371.2L1210.6 387.5L1195.4 387.5Z"/><path d="M1220.2 364.1L1227.8 380.4L1212.6 380.4Z"/><path d="M1241.1 364.1L1248.7 380.4L1233.5 380.4Z"/><path d="M1260.8 367.4L1268.4 383.7L1253.2 383.7Z"/><path d="M1280.5 374.5L1288.1 390.8L1272.9 390.8Z"/><path d="M1300.5 378.8L1308.1 395.1L1292.9 395.1Z"/><path d="M1321.6 382.7L1329.2 399.0L1314.0 399.0Z"/><path d="M1342.0 386.6L1349.6 402.9L1334.4 402.9Z"/><path d="M1361.8 391.8L1369.4 408.1L1354.2 408.1Z"/><path d="M1381.8 396.3L1389.4 412.6L1374.2 412.6Z"/><path d="M1402.2 399.2L1409.8 415.5L1394.6 415.5Z"/><path d="M1423.5 404.8L1431.1 421.1L1415.9 421.1Z"/><path d="M1444.3 408.9L1451.9 425.2L1436.7 425.2Z"/><path d="M1464.9 416.9L1472.5 433.2L1457.3 433.2Z"/><path d="M1485.0 420.7L1492.6 437.0L1477.4 437.0Z"/><path d="M1505.8 426.5L1513.4 442.8L1498.2 442.8Z"/><path d="M1526.2 431.2L1533.8 447.5L1518.6 447.5Z"/><path d="M1545.6 436.7L1553.2 453.0L1538.0 453.0Z"/><path d="M1565.6 442.2L1573.2 458.5L1558.0 458.5Z"/><path d="M1585.4 448.7L1593.0 465.0L1577.8 465.0Z"/><path d="M1605.2 454.2L1612.8 470.5L1597.6 470.5Z"/><path d="M1626.0 458.6L1633.6 474.9L1618.4 474.9Z"/><path d="M1646.5 464.3L1654.1 480.6L1638.9 480.6Z"/><path d="M1666.4 469.9L1674.0 486.2L1658.8 486.2Z"/><path d="M1686.6 476.5L1694.2 492.8L1679.0 492.8Z"/><path d="M1709.2 483.4L1716.8 499.7L1701.6 499.7Z"/><path d="M1731.0 490.0L1738.6 506.3L1723.4 506.3Z"/><path d="M1749.4 511.5L1757.0 527.8L1741.8 527.8Z"/><path d="M1762.6 519.6L1770.2 535.9L1755.0 535.9Z"/><path d="M1775.7 525.2L1783.3 541.5L1768.1 541.5Z"/><path d="M1788.8 529.5L1796.4 545.8L1781.2 545.8Z"/><path d="M1801.7 532.3L1809.3 548.6L1794.1 548.6Z"/><path d="M1814.6 534.5L1822.2 550.8L1807.0 550.8Z"/><path d="M1827.4 536.0L1835.0 552.3L1819.8 552.3Z"/><path d="M1840.2 536.6L1847.8 552.9L1832.6 552.9Z"/><path d="M1852.8 537.0L1860.4 553.3L1845.2 553.3Z"/><path d="M1865.4 537.4L1873.0 553.7L1857.8 553.7Z"/><path d="M1877.9 537.9L1885.5 554.2L1870.3 554.2Z"/><path d="M1890.3 538.6L1897.9 554.9L1882.7 554.9Z"/><path d="M1902.6 539.4L1910.2 555.7L1895.0 555.7Z"/><path d="M1914.9 540.1L1922.5 556.4L1907.3 556.4Z"/><path d="M1927.1 540.8L1934.7 557.1L1919.5 557.1Z"/><path d="M1939.2 541.5L1946.8 557.8L1931.6 557.8Z"/><path d="M1951.2 542.2L1958.8 558.5L1943.6 558.5Z"/><path d="M1963.2 543.2L1970.8 559.5L1955.6 559.5Z"/><path d="M1975.0 544.3L1982.6 560.6L1967.4 560.6Z"/><path d="M1986.8 545.5L1994.4 561.8L1979.2 561.8Z"/><path d="M1998.5 546.6L2006.1 562.9L1990.9 562.9Z"/><path d="M2010.2 547.8L2017.8 564.1L2002.6 564.1Z"/><path d="M2021.7 550.0L2029.3 566.3L2014.1 566.3Z"/><path d="M2033.2 555.5L2040.8 571.8L2025.6 571.8Z"/><path d="M2044.6 566.6L2052.2 582.9L2037.0 582.9Z"/><path d="M2058.0 638.5L2065.6 654.8L2050.4 654.8Z"/><path d="M2071.0 700.0L2078.6 716.3L2063.4 716.3Z"/><path d="M2084.0 766.2L2091.6 782.5L2076.4 782.5Z"/><path d="M2096.0 829.1L2103.6 845.4L2088.4 845.4Z"/><path d="M2109.0 885.9L2116.6 902.2L2101.4 902.2Z"/><path d="M2121.0 941.2L2128.6 957.5L2113.4 957.5Z"/><path d="M2133.0 998.0L2140.6 1014.3L2125.4 1014.3Z"/><path d="M2147.0 1048.6L2154.6 1064.9L2139.4 1064.9Z"/><path d="M2153.0 1069.0L2160.6 1085.3L2145.4 1085.3Z"/></g>
<g fill="#008080" stroke="#000" stroke-width="2" stroke-linejoin="miter"><path d="M206.0 1088.9L213.6 1072.6L198.4 1072.6Z"/><path d="M228.8 1079.8L236.4 1063.5L221.2 1063.5Z"/><path d="M251.6 1063.9L259.2 1047.6L244.0 1047.6Z"/><path d="M274.4 1049.7L282.0 1033.4L266.8 1033.4Z"/><path d="M297.2 1036.5L304.8 1020.2L289.6 1020.2Z"/><path d="M319.9 1022.8L327.6 1006.5L312.3 1006.5Z"/><path d="M342.7 1008.6L350.3 992.3L335.1 992.3Z"/><path d="M365.5 994.1L373.1 977.8L357.9 977.8Z"/><path d="M388.3 976.6L395.9 960.3L380.7 960.3Z"/><path d="M411.1 963.0L418.7 946.7L403.5 946.7Z"/><path d="M433.9 949.3L441.5 933.0L426.3 933.0Z"/><path d="M456.7 935.0L464.3 918.7L449.1 918.7Z"/><path d="M479.5 921.1L487.1 904.8L471.9 904.8Z"/><path d="M502.3 906.1L509.9 889.8L494.7 889.8Z"/><path d="M525.1 891.1L532.7 874.8L517.5 874.8Z"/><path d="M547.8 875.3L555.4 859.0L540.2 859.0Z"/><path d="M570.6 861.0L578.2 844.7L563.0 844.7Z"/><path d="M593.4 845.9L601.0 829.6L585.8 829.6Z"/><path d="M616.2 829.6L623.8 813.3L608.6 813.3Z"/><path d="M639.0 815.3L646.6 799.0L631.4 799.0Z"/><path d="M661.8 800.9L669.4 784.6L654.2 784.6Z"/><path d="M684.6 785.1L692.2 768.8L677.0 768.8Z"/><path d="M707.4 769.6L715.0 753.3L699.8 753.3Z"/><path d="M730.2 754.6L737.8 738.3L722.6 738.3Z"/><path d="M753.0 739.3L760.6 723.0L745.4 723.0Z"/><path d="M775.8 725.6L783.4 709.3L768.1 709.3Z"/><path d="M798.5 711.1L806.1 694.8L790.9 694.8Z"/><path d="M820.3 694.6L827.9 678.3L812.7 678.3Z"/><path d="M842.1 678.6L849.7 662.3L834.5 662.3Z"/><path d="M863.8 664.8L871.4 648.5L856.2 648.5Z"/><path d="M885.6 651.9L893.2 635.6L878.0 635.6Z"/><path d="M907.3 641.9L914.9 625.6L899.7 625.6Z"/><path d="M929.0 621.9L936.6 605.6L921.4 605.6Z"/><path d="M950.8 604.8L958.4 588.5L943.2 588.5Z"/><path d="M972.5 589.0L980.1 572.7L964.9 572.7Z"/><path d="M994.3 568.4L1001.9 552.1L986.7 552.1Z"/><path d="M1016.0 548.0L1023.6 531.7L1008.4 531.7Z"/><path d="M1037.9 528.4L1045.5 512.1L1030.3 512.1Z"/><path d="M1058.9 505.2L1066.5 488.9L1051.3 488.9Z"/><path d="M1079.8 482.9L1087.4 466.6L1072.2 466.6Z"/><path d="M1100.7 461.2L1108.3 444.9L1093.1 444.9Z"/><path d="M1122.9 444.6L1130.5 428.3L1115.3 428.3Z"/><path d="M1143.8 428.7L1151.4 412.4L1136.2 412.4Z"/><path d="M1163.5 415.6L1171.1 399.3L1155.9 399.3Z"/><path d="M1183.3 405.8L1190.9 389.5L1175.7 389.5Z"/><path d="M1203.0 406.3L1210.6 390.0L1195.4 390.0Z"/><path d="M1220.2 416.2L1227.8 399.9L1212.6 399.9Z"/><path d="M1241.1 422.8L1248.7 406.5L1233.5 406.5Z"/><path d="M1260.8 426.6L1268.4 410.3L1253.2 410.3Z"/><path d="M1280.5 428.5L1288.1 412.2L1272.9 412.2Z"/><path d="M1300.5 431.4L1308.1 415.1L1292.9 415.1Z"/><path d="M1321.6 434.3L1329.2 418.0L1314.0 418.0Z"/><path d="M1342.0 437.4L1349.6 421.1L1334.4 421.1Z"/><path d="M1361.8 443.9L1369.4 427.6L1354.2 427.6Z"/><path d="M1381.8 445.6L1389.4 429.3L1374.2 429.3Z"/><path d="M1402.2 447.1L1409.8 430.8L1394.6 430.8Z"/><path d="M1423.5 451.7L1431.1 435.4L1415.9 435.4Z"/><path d="M1444.3 453.1L1451.9 436.8L1436.7 436.8Z"/><path d="M1464.9 458.6L1472.5 442.3L1457.3 442.3Z"/><path d="M1485.0 460.2L1492.6 443.9L1477.4 443.9Z"/><path d="M1505.8 463.0L1513.4 446.7L1498.2 446.7Z"/><path d="M1526.2 468.7L1533.8 452.4L1518.6 452.4Z"/><path d="M1545.6 471.9L1553.2 455.6L1538.0 455.6Z"/><path d="M1565.6 476.0L1573.2 459.7L1558.0 459.7Z"/><path d="M1585.4 479.1L1593.0 462.8L1577.8 462.8Z"/><path d="M1605.2 483.2L1612.8 466.9L1597.6 466.9Z"/><path d="M1626.0 486.2L1633.6 469.9L1618.4 469.9Z"/><path d="M1646.5 491.9L1654.1 475.6L1638.9 475.6Z"/><path d="M1666.4 495.1L1674.0 478.8L1658.8 478.8Z"/><path d="M1686.6 499.6L1694.2 483.3L1679.0 483.3Z"/><path d="M1709.2 503.3L1716.8 487.0L1701.6 487.0Z"/><path d="M1731.0 510.4L1738.6 494.1L1723.4 494.1Z"/><path d="M1749.4 523.9L1757.0 507.6L1741.8 507.6Z"/><path d="M1762.6 531.9L1770.2 515.6L1755.0 515.6Z"/><path d="M1775.7 537.6L1783.3 521.3L1768.1 521.3Z"/><path d="M1788.8 541.8L1796.4 525.5L1781.2 525.5Z"/><path d="M1801.7 544.7L1809.3 528.4L1794.1 528.4Z"/><path d="M1814.6 546.9L1822.2 530.6L1807.0 530.6Z"/><path d="M1827.4 548.4L1835.0 532.1L1819.8 532.1Z"/><path d="M1840.2 549.0L1847.8 532.7L1832.6 532.7Z"/><path d="M1852.8 549.4L1860.4 533.1L1845.2 533.1Z"/><path d="M1865.4 549.8L1873.0 533.5L1857.8 533.5Z"/><path d="M1877.9 550.3L1885.5 534.0L1870.3 534.0Z"/><path d="M1890.3 551.0L1897.9 534.7L1882.7 534.7Z"/><path d="M1902.6 551.8L1910.2 535.5L1895.0 535.5Z"/><path d="M1914.9 552.5L1922.5 536.2L1907.3 536.2Z"/><path d="M1927.1 553.2L1934.7 536.9L1919.5 536.9Z"/><path d="M1939.2 553.9L1946.8 537.6L1931.6 537.6Z"/><path d="M1951.2 554.6L1958.8 538.3L1943.6 538.3Z"/><path d="M1963.2 555.6L1970.8 539.3L1955.6 539.3Z"/><path d="M1975.0 556.7L1982.6 540.4L1967.4 540.4Z"/><path d="M1986.8 557.9L1994.4 541.6L1979.2 541.6Z"/><path d="M1998.5 559.0L2006.1 542.7L1990.9 542.7Z"/><path d="M2010.2 560.1L2017.8 543.8L2002.6 543.8Z"/><path d="M2021.7 562.3L2029.3 546.0L2014.1 546.0Z"/><path d="M2033.2 567.9L2040.8 551.6L2025.6 551.6Z"/><path d="M2044.6 579.0L2052.2 562.7L2037.0 562.7Z"/><path d="M2058.0 650.9L2065.6 634.6L2050.4 634.6Z"/><path d="M2071.0 712.4L2078.6 696.1L2063.4 696.1Z"/><path d="M2084.0 778.6L2091.6 762.3L2076.4 762.3Z"/><path d="M2096.0 841.5L2103.6 825.2L2088.4 825.2Z"/><path d="M2109.0 898.3L2116.6 882.0L2101.4 882.0Z"/><path d="M2121.0 953.6L2128.6 937.3L2113.4 937.3Z"/><path d="M2133.0 1010.4L2140.6 994.1L2125.4 994.1Z"/><path d="M2147.0 1067.6L2154.6 1051.3L2139.4 1051.3Z"/><path d="M2153.0 1088.0L2160.6 1071.7L2145.4 1071.7Z"/></g>
<g stroke="#ff8f1f" stroke-width="2.7" fill="none"><path d="M196.0 1079.4H216.0M206.0 1069.4V1089.4"/><path d="M218.8 1069.4H238.8M228.8 1059.4V1079.4"/><path d="M241.6 1049.8H261.6M251.6 1039.8V1059.8"/><path d="M264.4 1034.5H284.4M274.4 1024.5V1044.5"/><path d="M287.2 1019.9H307.2M297.2 1009.9V1029.9"/><path d="M309.9 1004.3H329.9M319.9 994.3V1014.3"/><path d="M332.7 988.6H352.7M342.7 978.6V998.6"/><path d="M355.5 972.8H375.5M365.5 962.8V982.8"/><path d="M378.3 955.7H398.3M388.3 945.7V965.7"/><path d="M401.1 941.5H421.1M411.1 931.5V951.5"/><path d="M423.9 925.3H443.9M433.9 915.3V935.3"/><path d="M446.7 910.6H466.7M456.7 900.6V920.6"/><path d="M469.5 894.0H489.5M479.5 884.0V904.0"/><path d="M492.3 877.7H512.3M502.3 867.7V887.7"/><path d="M515.1 860.8H535.1M525.1 850.8V870.8"/><path d="M537.8 845.3H557.8M547.8 835.3V855.3"/><path d="M560.6 826.3H580.6M570.6 816.3V836.3"/><path d="M583.4 805.2H603.4M593.4 795.2V815.2"/><path d="M606.2 788.6H626.2M616.2 778.6V798.6"/><path d="M629.0 771.6H649.0M639.0 761.6V781.6"/><path d="M651.8 755.0H671.8M661.8 745.0V765.0"/><path d="M674.6 738.5H694.6M684.6 728.5V748.5"/><path d="M697.4 721.4H717.4M707.4 711.4V731.4"/><path d="M720.2 702.5H740.2M730.2 692.5V712.5"/><path d="M743.0 683.5H763.0M753.0 673.5V693.5"/><path d="M765.8 665.5H785.8M775.8 655.5V675.5"/><path d="M788.5 647.6H808.5M798.5 637.6V657.6"/><path d="M810.3 629.5H830.3M820.3 619.5V639.5"/><path d="M832.1 609.8H852.1M842.1 599.8V619.8"/><path d="M853.8 592.6H873.8M863.8 582.6V602.6"/><path d="M875.6 575.4H895.6M885.6 565.4V585.4"/><path d="M897.3 557.2H917.3M907.3 547.2V567.2"/><path d="M919.0 534.7H939.0M929.0 524.7V544.7"/><path d="M940.8 514.0H960.8M950.8 504.0V524.0"/><path d="M962.5 492.1H982.5M972.5 482.1V502.1"/><path d="M984.3 467.8H1004.3M994.3 457.8V477.8"/><path d="M1006.0 440.1H1026.0M1016.0 430.1V450.1"/><path d="M1027.9 412.7H1047.9M1037.9 402.7V422.7"/><path d="M1048.9 385.0H1068.9M1058.9 375.0V395.0"/><path d="M1069.8 354.7H1089.8M1079.8 344.7V364.7"/><path d="M1090.7 320.6H1110.7M1100.7 310.6V330.6"/><path d="M1112.9 289.9H1132.9M1122.9 279.9V299.9"/><path d="M1133.8 250.1H1153.8M1143.8 240.1V260.1"/><path d="M1153.5 215.6H1173.5M1163.5 205.6V225.6"/><path d="M1173.3 181.1H1193.3M1183.3 171.1V191.1"/><path d="M1193.0 149.4H1213.0M1203.0 139.4V159.4"/><path d="M1210.2 127.7H1230.2M1220.2 117.7V137.7"/><path d="M1231.1 121.5H1251.1M1241.1 111.5V131.5"/><path d="M1250.8 130.9H1270.8M1260.8 120.9V140.9"/><path d="M1270.5 139.0H1290.5M1280.5 129.0V149.0"/><path d="M1290.5 152.5H1310.5M1300.5 142.5V162.5"/><path d="M1311.6 162.1H1331.6M1321.6 152.1V172.1"/><path d="M1332.0 171.7H1352.0M1342.0 161.7V181.7"/><path d="M1351.8 181.2H1371.8M1361.8 171.2V191.2"/><path d="M1371.8 191.7H1391.8M1381.8 181.7V201.7"/><path d="M1392.2 203.5H1412.2M1402.2 193.5V213.5"/><path d="M1413.5 213.2H1433.5M1423.5 203.2V223.2"/><path d="M1434.3 223.2H1454.3M1444.3 213.2V233.2"/><path d="M1454.9 233.3H1474.9M1464.9 223.3V243.3"/><path d="M1475.0 244.9H1495.0M1485.0 234.9V254.9"/><path d="M1495.8 258.5H1515.8M1505.8 248.5V268.5"/><path d="M1516.2 271.3H1536.2M1526.2 261.3V281.3"/><path d="M1535.6 282.6H1555.6M1545.6 272.6V292.6"/><path d="M1555.6 292.5H1575.6M1565.6 282.5V302.5"/><path d="M1575.4 304.8H1595.4M1585.4 294.8V314.8"/><path d="M1595.2 319.0H1615.2M1605.2 309.0V329.0"/><path d="M1616.0 332.2H1636.0M1626.0 322.2V342.2"/><path d="M1636.5 347.0H1656.5M1646.5 337.0V357.0"/><path d="M1656.4 358.1H1676.4M1666.4 348.1V368.1"/><path d="M1676.6 372.3H1696.6M1686.6 362.3V382.3"/><path d="M1699.2 388.0H1719.2M1709.2 378.0V398.0"/><path d="M1721.0 404.8H1741.0M1731.0 394.8V414.8"/><path d="M1739.4 427.2H1759.4M1749.4 417.2V437.2"/><path d="M1752.6 435.8H1772.6M1762.6 425.8V445.8"/><path d="M1765.7 442.0H1785.7M1775.7 432.0V452.0"/><path d="M1778.8 445.5H1798.8M1788.8 435.5V455.5"/><path d="M1791.7 447.8H1811.7M1801.7 437.8V457.8"/><path d="M1804.6 450.6H1824.6M1814.6 440.6V460.6"/><path d="M1817.4 453.2H1837.4M1827.4 443.2V463.2"/><path d="M1830.2 454.5H1850.2M1840.2 444.5V464.5"/><path d="M1842.8 455.6H1862.8M1852.8 445.6V465.6"/><path d="M1855.4 456.7H1875.4M1865.4 446.7V466.7"/><path d="M1867.9 457.8H1887.9M1877.9 447.8V467.8"/><path d="M1880.3 458.8H1900.3M1890.3 448.8V468.8"/><path d="M1892.6 459.6H1912.6M1902.6 449.6V469.6"/><path d="M1904.9 460.4H1924.9M1914.9 450.4V470.4"/><path d="M1917.1 461.2H1937.1M1927.1 451.2V471.2"/><path d="M1929.2 462.0H1949.2M1939.2 452.0V472.0"/><path d="M1941.2 462.6H1961.2M1951.2 452.6V472.6"/><path d="M1953.2 463.2H1973.2M1963.2 453.2V473.2"/><path d="M1965.0 463.8H1985.0M1975.0 453.8V473.8"/><path d="M1976.8 464.3H1996.8M1986.8 454.3V474.3"/><path d="M1988.5 465.6H2008.5M1998.5 455.6V475.6"/><path d="M2000.2 467.2H2020.2M2010.2 457.2V477.2"/><path d="M2011.7 471.7H2031.7M2021.7 461.7V481.7"/><path d="M2023.2 480.0H2043.2M2033.2 470.0V490.0"/><path d="M2034.6 493.3H2054.6M2044.6 483.3V503.3"/><path d="M2048.0 577.0H2068.0M2058.0 567.0V587.0"/><path d="M2061.0 652.7H2081.0M2071.0 642.7V662.7"/><path d="M2074.0 729.3H2094.0M2084.0 719.3V739.3"/><path d="M2086.0 795.6H2106.0M2096.0 785.6V805.6"/><path d="M2099.0 864.2H2119.0M2109.0 854.2V874.2"/><path d="M2111.0 930.4H2131.0M2121.0 920.4V940.4"/><path d="M2123.0 993.8H2143.0M2133.0 983.8V1003.8"/><path d="M2137.0 1054.8H2157.0M2147.0 1044.8V1064.8"/><path d="M2143.0 1078.5H2163.0M2153.0 1068.5V1088.5"/></g>
<g stroke="#8c8c8c" stroke-width="1.9" fill="none"><path d="M197.0 1070.4L215.0 1088.4M215.0 1070.4L197.0 1088.4"/><path d="M219.8 1060.4L237.8 1078.4M237.8 1060.4L219.8 1078.4"/><path d="M242.6 1040.8L260.6 1058.8M260.6 1040.8L242.6 1058.8"/><path d="M265.4 1025.5L283.4 1043.5M283.4 1025.5L265.4 1043.5"/><path d="M288.2 1010.9L306.2 1028.9M306.2 1010.9L288.2 1028.9"/><path d="M310.9 995.3L328.9 1013.3M328.9 995.3L310.9 1013.3"/><path d="M333.7 979.6L351.7 997.6M351.7 979.6L333.7 997.6"/><path d="M356.5 963.8L374.5 981.8M374.5 963.8L356.5 981.8"/><path d="M379.3 946.7L397.3 964.7M397.3 946.7L379.3 964.7"/><path d="M402.1 932.5L420.1 950.5M420.1 932.5L402.1 950.5"/><path d="M424.9 916.3L442.9 934.3M442.9 916.3L424.9 934.3"/><path d="M447.7 901.6L465.7 919.6M465.7 901.6L447.7 919.6"/><path d="M470.5 885.0L488.5 903.0M488.5 885.0L470.5 903.0"/><path d="M493.3 868.7L511.3 886.7M511.3 868.7L493.3 886.7"/><path d="M516.1 851.8L534.1 869.8M534.1 851.8L516.1 869.8"/><path d="M538.8 836.3L556.8 854.3M556.8 836.3L538.8 854.3"/><path d="M561.6 817.3L579.6 835.3M579.6 817.3L561.6 835.3"/><path d="M584.4 796.2L602.4 814.2M602.4 796.2L584.4 814.2"/><path d="M607.2 779.6L625.2 797.6M625.2 779.6L607.2 797.6"/><path d="M630.0 762.6L648.0 780.6M648.0 762.6L630.0 780.6"/><path d="M652.8 746.0L670.8 764.0M670.8 746.0L652.8 764.0"/><path d="M675.6 729.5L693.6 747.5M693.6 729.5L675.6 747.5"/><path d="M698.4 712.4L716.4 730.4M716.4 712.4L698.4 730.4"/><path d="M721.2 693.5L739.2 711.5M739.2 693.5L721.2 711.5"/><path d="M744.0 674.5L762.0 692.5M762.0 674.5L744.0 692.5"/><path d="M766.8 656.5L784.8 674.5M784.8 656.5L766.8 674.5"/><path d="M789.5 638.6L807.5 656.6M807.5 638.6L789.5 656.6"/><path d="M811.3 620.5L829.3 638.5M829.3 620.5L811.3 638.5"/><path d="M833.1 600.8L851.1 618.8M851.1 600.8L833.1 618.8"/><path d="M854.8 583.6L872.8 601.6M872.8 583.6L854.8 601.6"/><path d="M876.6 566.4L894.6 584.4M894.6 566.4L876.6 584.4"/><path d="M898.3 548.2L916.3 566.2M916.3 548.2L898.3 566.2"/><path d="M920.0 525.7L938.0 543.7M938.0 525.7L920.0 543.7"/><path d="M941.8 505.0L959.8 523.0M959.8 505.0L941.8 523.0"/><path d="M963.5 483.1L981.5 501.1M981.5 483.1L963.5 501.1"/><path d="M985.3 458.8L1003.3 476.8M1003.3 458.8L985.3 476.8"/><path d="M1007.0 431.1L1025.0 449.1M1025.0 431.1L1007.0 449.1"/><path d="M1028.9 403.7L1046.9 421.7M1046.9 403.7L1028.9 421.7"/><path d="M1049.9 376.0L1067.9 394.0M1067.9 376.0L1049.9 394.0"/><path d="M1070.8 352.3L1088.8 370.3M1088.8 352.3L1070.8 370.3"/><path d="M1091.7 322.5L1109.7 340.5M1109.7 322.5L1091.7 340.5"/><path d="M1113.9 293.2L1131.9 311.2M1131.9 293.2L1113.9 311.2"/><path d="M1134.8 264.8L1152.8 282.8M1152.8 264.8L1134.8 282.8"/><path d="M1154.5 238.8L1172.5 256.8M1172.5 238.8L1154.5 256.8"/><path d="M1174.3 216.5L1192.3 234.5M1192.3 216.5L1174.3 234.5"/><path d="M1194.0 205.7L1212.0 223.7M1212.0 205.7L1194.0 223.7"/><path d="M1211.2 201.0L1229.2 219.0M1229.2 201.0L1211.2 219.0"/><path d="M1232.1 207.1L1250.1 225.1M1250.1 207.1L1232.1 225.1"/><path d="M1251.8 215.1L1269.8 233.1M1269.8 215.1L1251.8 233.1"/><path d="M1271.5 219.9L1289.5 237.9M1289.5 219.9L1271.5 237.9"/><path d="M1291.5 226.2L1309.5 244.2M1309.5 226.2L1291.5 244.2"/><path d="M1312.6 233.5L1330.6 251.5M1330.6 233.5L1312.6 251.5"/><path d="M1333.0 240.7L1351.0 258.7M1351.0 240.7L1333.0 258.7"/><path d="M1352.8 249.3L1370.8 267.3M1370.8 249.3L1352.8 267.3"/><path d="M1372.8 259.3L1390.8 277.3M1390.8 259.3L1372.8 277.3"/><path d="M1393.2 266.4L1411.2 284.4M1411.2 266.4L1393.2 284.4"/><path d="M1414.5 272.9L1432.5 290.9M1432.5 272.9L1414.5 290.9"/><path d="M1435.3 280.1L1453.3 298.1M1453.3 280.1L1435.3 298.1"/><path d="M1455.9 287.8L1473.9 305.8M1473.9 287.8L1455.9 305.8"/><path d="M1476.0 293.4L1494.0 311.4M1494.0 293.4L1476.0 311.4"/><path d="M1496.8 299.7L1514.8 317.7M1514.8 299.7L1496.8 317.7"/><path d="M1517.2 309.6L1535.2 327.6M1535.2 309.6L1517.2 327.6"/><path d="M1536.6 316.9L1554.6 334.9M1554.6 316.9L1536.6 334.9"/><path d="M1556.6 324.2L1574.6 342.2M1574.6 324.2L1556.6 342.2"/><path d="M1576.4 333.7L1594.4 351.7M1594.4 333.7L1576.4 351.7"/><path d="M1596.2 343.0L1614.2 361.0M1614.2 343.0L1596.2 361.0"/><path d="M1617.0 351.1L1635.0 369.1M1635.0 351.1L1617.0 369.1"/><path d="M1637.5 360.4L1655.5 378.4M1655.5 360.4L1637.5 378.4"/><path d="M1657.4 369.3L1675.4 387.3M1675.4 369.3L1657.4 387.3"/><path d="M1677.6 378.3L1695.6 396.3M1695.6 378.3L1677.6 396.3"/><path d="M1700.2 389.7L1718.2 407.7M1718.2 389.7L1700.2 407.7"/><path d="M1722.0 397.8L1740.0 415.8M1740.0 397.8L1722.0 415.8"/><path d="M1740.4 418.2L1758.4 436.2M1758.4 418.2L1740.4 436.2"/><path d="M1753.6 426.8L1771.6 444.8M1771.6 426.8L1753.6 444.8"/><path d="M1766.7 433.0L1784.7 451.0M1784.7 433.0L1766.7 451.0"/><path d="M1779.8 436.5L1797.8 454.5M1797.8 436.5L1779.8 454.5"/><path d="M1792.7 438.8L1810.7 456.8M1810.7 438.8L1792.7 456.8"/><path d="M1805.6 441.6L1823.6 459.6M1823.6 441.6L1805.6 459.6"/><path d="M1818.4 444.2L1836.4 462.2M1836.4 444.2L1818.4 462.2"/><path d="M1831.2 445.5L1849.2 463.5M1849.2 445.5L1831.2 463.5"/><path d="M1843.8 446.6L1861.8 464.6M1861.8 446.6L1843.8 464.6"/><path d="M1856.4 447.7L1874.4 465.7M1874.4 447.7L1856.4 465.7"/><path d="M1868.9 448.8L1886.9 466.8M1886.9 448.8L1868.9 466.8"/><path d="M1881.3 449.8L1899.3 467.8M1899.3 449.8L1881.3 467.8"/><path d="M1893.6 450.6L1911.6 468.6M1911.6 450.6L1893.6 468.6"/><path d="M1905.9 451.4L1923.9 469.4M1923.9 451.4L1905.9 469.4"/><path d="M1918.1 452.2L1936.1 470.2M1936.1 452.2L1918.1 470.2"/><path d="M1930.2 453.0L1948.2 471.0M1948.2 453.0L1930.2 471.0"/><path d="M1942.2 453.6L1960.2 471.6M1960.2 453.6L1942.2 471.6"/><path d="M1954.2 454.2L1972.2 472.2M1972.2 454.2L1954.2 472.2"/><path d="M1966.0 454.8L1984.0 472.8M1984.0 454.8L1966.0 472.8"/><path d="M1977.8 455.3L1995.8 473.3M1995.8 455.3L1977.8 473.3"/><path d="M1989.5 456.6L2007.5 474.6M2007.5 456.6L1989.5 474.6"/><path d="M2001.2 458.2L2019.2 476.2M2019.2 458.2L2001.2 476.2"/><path d="M2012.7 462.7L2030.7 480.7M2030.7 462.7L2012.7 480.7"/><path d="M2024.2 471.0L2042.2 489.0M2042.2 471.0L2024.2 489.0"/><path d="M2035.6 484.3L2053.6 502.3M2053.6 484.3L2035.6 502.3"/><path d="M2049.0 568.0L2067.0 586.0M2067.0 568.0L2049.0 586.0"/><path d="M2062.0 643.7L2080.0 661.7M2080.0 643.7L2062.0 661.7"/><path d="M2075.0 720.3L2093.0 738.3M2093.0 720.3L2075.0 738.3"/><path d="M2087.0 786.6L2105.0 804.6M2105.0 786.6L2087.0 804.6"/><path d="M2100.0 855.2L2118.0 873.2M2118.0 855.2L2100.0 873.2"/><path d="M2112.0 921.4L2130.0 939.4M2130.0 921.4L2112.0 939.4"/><path d="M2124.0 984.8L2142.0 1002.8M2142.0 984.8L2124.0 1002.8"/><path d="M2138.0 1045.8L2156.0 1063.8M2156.0 1045.8L2138.0 1063.8"/><path d="M2144.0 1069.5L2162.0 1087.5M2162.0 1069.5L2144.0 1087.5"/></g>
</g>
<line x1="194" y1="110" x2="2164" y2="110" stroke="#333" stroke-width="3"/>
<line x1="2164" y1="110" x2="2164" y2="1080" stroke="#333" stroke-width="3"/>
<line x1="194" y1="1078.5" x2="2164" y2="1078.5" stroke="#3a3a3a" stroke-width="4"/>
<line x1="196" y1="1081.2" x2="2164" y2="1081.2" stroke="#000" stroke-width="2.6" stroke-dasharray="9 8.24" stroke-dashoffset="11.04"/>
<line x1="194" y1="108.5" x2="194" y2="1082" stroke="#111" stroke-width="4.6"/>
<line x1="1743" y1="111" x2="1743" y2="1078" stroke="#8c8c8c" stroke-width="4.6"/>
<g font-family="DejaVu Sans Mono, Liberation Mono, monospace" font-size="35" fill="#111"><rect x="1305" y="143" width="32.5" height="32.5" fill="#fff" stroke="#2a2a2a" stroke-width="2.2"/><text x="1321.3" y="171.5" text-anchor="middle">5</text><rect x="1305" y="227.5" width="32.5" height="32.5" fill="#fff" stroke="#2a2a2a" stroke-width="2.2"/><text x="1321.3" y="256.0" text-anchor="middle">6</text><rect x="1305" y="371" width="32.5" height="32.5" fill="#fff" stroke="#2a2a2a" stroke-width="2.2"/><text x="1321.3" y="399.5" text-anchor="middle">3</text><rect x="1305" y="415.5" width="32.5" height="32.5" fill="#fff" stroke="#2a2a2a" stroke-width="2.2"/><text x="1321.3" y="444.0" text-anchor="middle">4</text><rect x="1305" y="540.5" width="32.5" height="32.5" fill="#fff" stroke="#2a2a2a" stroke-width="2.2"/><text x="1321.3" y="569.0" text-anchor="middle">2</text><rect x="1305" y="591" width="32.5" height="32.5" fill="#fff" stroke="#2a2a2a" stroke-width="2.2"/><text x="1321.3" y="619.5" text-anchor="middle">1</text></g>
<g font-family="Liberation Sans, Arial, sans-serif" font-size="43" fill="#222" stroke="#222" stroke-width="0.5"><text transform="translate(176 1094.0) scale(0.872 1)" text-anchor="end">0.0</text><text transform="translate(176 999.3) scale(0.872 1)" text-anchor="end">2.0</text><text transform="translate(176 904.5) scale(0.872 1)" text-anchor="end">4.0</text><text transform="translate(176 809.8) scale(0.872 1)" text-anchor="end">6.0</text><text transform="translate(176 715.1) scale(0.872 1)" text-anchor="end">8.0</text><text transform="translate(176 620.3) scale(0.872 1)" text-anchor="end">10.0</text><text transform="translate(176 525.6) scale(0.872 1)" text-anchor="end">12.0</text><text transform="translate(176 430.9) scale(0.872 1)" text-anchor="end">14.0</text><text transform="translate(176 336.1) scale(0.872 1)" text-anchor="end">16.0</text><text transform="translate(176 241.4) scale(0.872 1)" text-anchor="end">18.0</text><text transform="translate(176 146.7) scale(0.872 1)" text-anchor="end">20.0</text><text transform="translate(204 1135.5) scale(0.872 1)" text-anchor="middle">0</text><text transform="translate(456.1 1135.5) scale(0.872 1)" text-anchor="middle">200</text><text transform="translate(705.4 1135.5) scale(0.872 1)" text-anchor="middle">400</text><text transform="translate(958.8 1135.5) scale(0.872 1)" text-anchor="middle">600</text><text transform="translate(1209 1135.5) scale(0.872 1)" text-anchor="middle">800</text><text transform="translate(1464.9 1135.5) scale(0.872 1)" text-anchor="middle">1 000</text><text transform="translate(1717.2 1135.5) scale(0.872 1)" text-anchor="middle">1 200</text><text transform="translate(1967.7 1135.5) scale(0.872 1)" text-anchor="middle">1 400</text></g>
<text transform="translate(1177 1184) scale(1.0 1)" text-anchor="middle" font-family="Liberation Sans, Arial, sans-serif" font-size="43" fill="#222" stroke="#222" stroke-width="0.5">Length [mm]</text>
<text transform="translate(70 595.6) rotate(-90)" text-anchor="middle" font-family="Liberation Sans, Arial, sans-serif" font-size="43" fill="#222" stroke="#222" stroke-width="0.5">Pressure [MPa]</text>
<rect x="192.3" y="1240" width="1973.5" height="94" fill="#fff" stroke="#444" stroke-width="3"/>
<rect x="262.5" y="1246.5" width="32.5" height="32.5" fill="#fff" stroke="#2a2a2a" stroke-width="2.2"/><text x="278.8" y="1275.0" text-anchor="middle" font-family="DejaVu Sans Mono, Liberation Mono, monospace" font-size="35" fill="#111">1</text><line x1="321" y1="1265.6" x2="447.5" y2="1265.6" stroke="#ff1a1a" stroke-width="2.4"/><g fill="#ff0000" stroke="#000" stroke-width="2"><rect x="378.0" y="1257.6" width="16" height="16"/></g><text transform="translate(460 1278.1) scale(0.98 1)" font-family="Liberation Sans, Arial, sans-serif" font-size="36" fill="#222" stroke="#222" stroke-width="0.5">WPC N20</text><rect x="262.5" y="1287" width="32.5" height="32.5" fill="#fff" stroke="#2a2a2a" stroke-width="2.2"/><text x="278.8" y="1315.5" text-anchor="middle" font-family="DejaVu Sans Mono, Liberation Mono, monospace" font-size="35" fill="#111">4</text><line x1="321" y1="1308.4" x2="447.5" y2="1308.4" stroke="#1a9e9e" stroke-width="2.4"/><g fill="#008080" stroke="#000" stroke-width="2"><path d="M386.0 1317.9L393.6 1301.6L378.4 1301.6Z"/></g><text transform="translate(460 1320.9) scale(0.98 1)" font-family="Liberation Sans, Arial, sans-serif" font-size="36" fill="#222" stroke="#222" stroke-width="0.5">WPC N50 SLIP</text><rect x="907" y="1246.8" width="32.5" height="32.5" fill="#fff" stroke="#2a2a2a" stroke-width="2.2"/><text x="923.3" y="1275.3" text-anchor="middle" font-family="DejaVu Sans Mono, Liberation Mono, monospace" font-size="35" fill="#111">2</text><line x1="971.3" y1="1265.3" x2="1097.5" y2="1265.3" stroke="#1c9a1c" stroke-width="2.4"/><g fill="#008000" stroke="#000" stroke-width="2"><path d="M1034.7 1257.7L1042.3 1265.3L1034.7 1272.9L1027.1 1265.3Z"/></g><text transform="translate(1110.3 1277.8) scale(0.98 1)" font-family="Liberation Sans, Arial, sans-serif" font-size="36" fill="#222" stroke="#222" stroke-width="0.5">WPC N20 SLIP</text><rect x="907" y="1287" width="32.5" height="32.5" fill="#fff" stroke="#2a2a2a" stroke-width="2.2"/><text x="923.3" y="1315.5" text-anchor="middle" font-family="DejaVu Sans Mono, Liberation Mono, monospace" font-size="35" fill="#111">5</text><line x1="971.3" y1="1309" x2="1097.5" y2="1309" stroke="#ff8c1a" stroke-width="2.4"/><g stroke="#ff8c1a" stroke-width="3"><path d="M1024.7 1309.0H1044.7M1034.7 1299.0V1319.0"/></g><text transform="translate(1110.3 1321.5) scale(0.98 1)" font-family="Liberation Sans, Arial, sans-serif" font-size="36" fill="#222" stroke="#222" stroke-width="0.5">WPC N80</text><rect x="1566" y="1246.7" width="32.5" height="32.5" fill="#fff" stroke="#2a2a2a" stroke-width="2.2"/><text x="1582.3" y="1275.2" text-anchor="middle" font-family="DejaVu Sans Mono, Liberation Mono, monospace" font-size="35" fill="#111">3</text><line x1="1622.2" y1="1265.5" x2="1747" y2="1265.5" stroke="#2222ff" stroke-width="2.4"/><g fill="#0000ff" stroke="#000" stroke-width="2"><path d="M1685.6 1256.0L1693.2 1272.3L1678.0 1272.3Z"/></g><text transform="translate(1759.7 1278.0) scale(0.98 1)" font-family="Liberation Sans, Arial, sans-serif" font-size="36" fill="#222" stroke="#222" stroke-width="0.5">WPC N50</text><rect x="1566" y="1287" width="32.5" height="32.5" fill="#fff" stroke="#2a2a2a" stroke-width="2.2"/><text x="1582.3" y="1315.5" text-anchor="middle" font-family="DejaVu Sans Mono, Liberation Mono, monospace" font-size="35" fill="#111">6</text><line x1="1622.2" y1="1309" x2="1747" y2="1309" stroke="#999999" stroke-width="2.4"/><g stroke="#8f8f8f" stroke-width="2.4"><path d="M1676.6 1300.0L1694.6 1318.0M1694.6 1300.0L1676.6 1318.0"/></g><text transform="translate(1759.7 1321.5) scale(0.98 1)" font-family="Liberation Sans, Arial, sans-serif" font-size="36" fill="#222" stroke="#222" stroke-width="0.5">WPC N80 SLIP</text>
</svg>
</body></html>
